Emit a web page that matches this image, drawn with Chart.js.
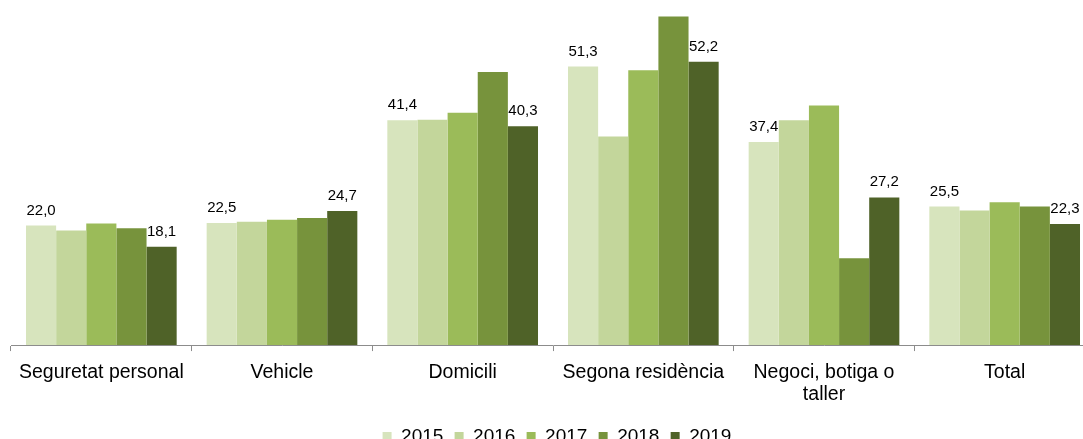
<!DOCTYPE html>
<html>
<head>
<meta charset="utf-8">
<script src="https://cdn.jsdelivr.net/npm/chart.js@4/dist/chart.umd.min.js"></script>
<style>
html,body{margin:0;padding:0;background:#fff;overflow:hidden;}
#wrap{position:relative;width:1114px;height:456px;}
</style>
</head>
<body>
<div id="wrap"><canvas id="c"></canvas></div>
<script>
const categories = ["Seguretat personal", "Vehicle", "Domicili", "Segona residència", ["Negoci, botiga o", "taller"], "Total"];
const years = ["2015", "2016", "2017", "2018", "2019"];
const v2015 = [22.0, 22.5, 41.4, 51.3, 37.4, 25.5];
const v2016 = [21.1, 22.7, 41.5, 38.4, 41.4, 24.8];
const v2017 = [22.4, 23.1, 42.8, 50.6, 44.1, 26.3];
const v2018 = [21.5, 23.4, 50.3, 60.5, 16.0, 25.5];
const v2019 = [18.1, 24.7, 40.3, 52.2, 27.2, 22.3];
const colors = ["#D7E4BD", "#C3D69B", "#9BBB59", "#77933C", "#4F6228"];
const labelledSeries = [0, 4];

const seriesValues = [v2015, v2016, v2017, v2018, v2019];

const valueLabels = {
  id: 'valueLabels',
  afterLayout(chart) {
    if (chart.legend) { chart.legend.left += 4; chart.legend.right += 4; }
  },
  afterDatasetsDraw(chart) {
    const ctx = chart.ctx;
    ctx.save();
    ctx.font = '15px "Liberation Sans", Arial, sans-serif';
    ctx.fillStyle = '#000';
    ctx.textAlign = 'center';
    ctx.textBaseline = 'alphabetic';
    labelledSeries.forEach(di => {
      const meta = chart.getDatasetMeta(di);
      meta.data.forEach((bar, i) => {
        const v = chart.data.datasets[di].data[i];
        ctx.fillText(v.toFixed(1).replace('.', ','), bar.x, bar.y - 11);
      });
    });
    ctx.restore();
  }
};

new Chart(document.getElementById('c'), {
  type: 'bar',
  data: {
    labels: categories,
    datasets: years.map((y, i) => ({
      label: y,
      data: seriesValues[i],
      backgroundColor: colors[i],
      borderWidth: 0,
      categoryPercentage: 0.834,
      barPercentage: 1.0
    }))
  },
  options: {
    responsive: true,
    maintainAspectRatio: false,
    animation: false,
    layout: { padding: { left: 11, right: 19, top: 3, bottom: 0 } },
    plugins: {
      tooltip: { enabled: false },
      legend: {
        position: 'bottom',
        labels: {
          boxWidth: 9,
          boxHeight: 9,
          padding: 11.25,
          color: '#000',
          font: { family: '"Liberation Sans", Arial, sans-serif', size: 19 }
        }
      }
    },
    scales: {
      x: {
        offset: true,
        afterFit: s => { s.height -= 1; },
        grid: {
          offset: true,
          drawOnChartArea: false,
          drawTicks: true,
          tickLength: 6,
          color: '#8c8c8c',
          lineWidth: 1
        },
        border: { display: true, color: '#8c8c8c', width: 1 },
        ticks: {
          color: '#000',
          padding: 11,
          maxRotation: 0,
          autoSkip: false,
          font: { family: '"Liberation Sans", Arial, sans-serif', size: 19.5, lineHeight: 1.12 }
        }
      },
      y: {
        display: false,
        min: 0,
        max: 63
      }
    }
  },
  plugins: [valueLabels]
});
</script>
</body>
</html>
